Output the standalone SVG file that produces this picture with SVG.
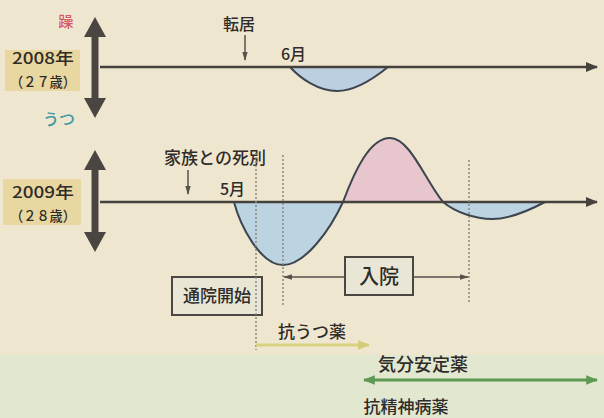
<svg xmlns="http://www.w3.org/2000/svg" width="604" height="418" viewBox="0 0 604 418">
  <style>
    .t { font-family: "Noto Sans CJK JP", "Noto Sans", sans-serif; fill: #2e2b28; font-weight: 500; }
    .axis { stroke: #45423d; stroke-width: 2.5; fill: none; }
    .curve { stroke: #3c4550; stroke-width: 2; fill: none; }
    .dot { stroke: #8a8a80; stroke-width: 1.5; stroke-dasharray: 2 2; fill: none; }
    .conn { stroke: #55524c; stroke-width: 1.5; fill: none; }
    .box { fill: #e9e6d6; stroke: #4a4642; stroke-width: 2; }
    .lbl { fill: #e8d7a0; }
    .vbar { stroke: #4a4540; stroke-width: 7; }
  </style>
  <defs>
    <marker id="ah" viewBox="0 0 10 10" refX="9" refY="5" markerWidth="5" markerHeight="5" orient="auto-start-reverse">
      <path d="M0,1 L10,5 L0,9 z" fill="#45423d"/>
    </marker>
    <marker id="ahs" viewBox="0 0 10 10" refX="9" refY="5" markerWidth="6" markerHeight="6" orient="auto-start-reverse">
      <path d="M0,2 L10,5 L0,8 z" fill="#55524c"/>
    </marker>
    <marker id="ahg" viewBox="0 0 10 10" refX="9" refY="5" markerWidth="4" markerHeight="4" orient="auto-start-reverse">
      <path d="M0,1 L10,5 L0,9 z" fill="#5f9a55"/>
    </marker>
    <marker id="ahy" viewBox="0 0 10 10" refX="9" refY="5" markerWidth="4" markerHeight="4" orient="auto-start-reverse">
      <path d="M0,1 L10,5 L0,9 z" fill="#d2cc78"/>
    </marker>
    <clipPath id="above"><rect x="0" y="0" width="604" height="202"/></clipPath>
    <clipPath id="below"><rect x="0" y="202" width="604" height="216"/></clipPath>
  </defs>

  <!-- background -->
  <rect x="0" y="0" width="604" height="418" fill="#eee6cf"/>
  <rect x="0" y="355" width="604" height="63" fill="#e2e7d0"/>

  <!-- 2008 row -->
  <g id="label2008">
    <rect class="lbl" x="5" y="50" width="75" height="41"/>
    <text class="t" x="43" y="64" font-size="16" text-anchor="middle" textLength="62" lengthAdjust="spacingAndGlyphs">2008年</text>
    <text class="t" x="43" y="87" font-size="14" text-anchor="middle" textLength="66" lengthAdjust="spacingAndGlyphs">（２７歳）</text>
  </g>
  <g id="mania-label"><text x="66" y="27" font-size="15" text-anchor="middle" font-family="Noto Sans CJK JP, sans-serif" font-weight="500" fill="#d4586a">躁</text></g>
  <g id="depress-label"><text x="59" y="125" font-size="16" text-anchor="middle" font-family="Noto Sans CJK JP, sans-serif" font-weight="500" fill="#3e9aa6">うつ</text></g>
  <g id="vbar2008">
    <line class="vbar" x1="95" y1="34" x2="95" y2="102"/>
    <path d="M95,17 L106,37 L84,37 z" fill="#4a4540"/>
    <path d="M95,118 L106,98 L84,98 z" fill="#4a4540"/>
  </g>
  <g id="curve2008">
    <path d="M290,67 C300,78 318,91 337,91 C355,91 372,80 388,67 Z" fill="#bccfe0"/>
    <path class="curve" d="M290,67 C300,78 318,91 337,91 C355,91 372,80 388,67"/>
  </g>
  <g id="tenkyo">
    <text class="t" x="239" y="30" font-size="16" text-anchor="middle">転居</text>
  </g>
  <g id="m6"><text class="t" x="281" y="60" font-size="16">6月</text></g>

  <!-- 2009 row -->
  <g id="label2009">
    <rect class="lbl" x="3" y="179" width="78" height="46"/>
    <text class="t" x="43" y="198" font-size="16" text-anchor="middle" textLength="62" lengthAdjust="spacingAndGlyphs">2009年</text>
    <text class="t" x="43" y="221" font-size="14" text-anchor="middle" textLength="66" lengthAdjust="spacingAndGlyphs">（２８歳）</text>
  </g>
  <g id="vbar2009">
    <line class="vbar" x1="95" y1="167" x2="95" y2="235"/>
    <path d="M95,150 L106,170 L84,170 z" fill="#4a4540"/>
    <path d="M95,252 L106,232 L84,232 z" fill="#4a4540"/>
  </g>
  <g id="curve2009">
    <path clip-path="url(#above)" d="M234,202 C240,225 260,265 283,265 C305,265 330,230 343,202 C355,170 370,138 390,138 C410,138 425,180 443,202 C455,212 475,219 492,219 C510,219 530,210 545,202 Z" fill="#e8c6cd"/>
    <path clip-path="url(#below)" d="M234,202 C240,225 260,265 283,265 C305,265 330,230 343,202 C355,170 370,138 390,138 C410,138 425,180 443,202 C455,212 475,219 492,219 C510,219 530,210 545,202 Z" fill="#bcd3e2"/>
    <path class="curve" d="M234,202 C240,225 260,265 283,265 C305,265 330,230 343,202 C355,170 370,138 390,138 C410,138 425,180 443,202 C455,212 475,219 492,219 C510,219 530,210 545,202"/>
  </g>
  <g id="shibetsu">
    <text class="t" x="215" y="164" font-size="17" text-anchor="middle">家族との死別</text>
  </g>
  <g id="m5"><text class="t" x="220" y="195" font-size="16">5月</text></g>

  <g id="tsuin">
    <rect class="box" x="172" y="277" width="90" height="38"/>
    <text class="t" x="217" y="302" font-size="17" text-anchor="middle">通院開始</text>
  </g>
  <g id="nyuin">
    <rect class="box" x="345" y="257" width="68" height="38"/>
    <text class="t" x="379" y="284" font-size="20" text-anchor="middle">入院</text>
  </g>
  <g id="kouutsu">
    <text class="t" x="312" y="338" font-size="17" text-anchor="middle">抗うつ薬</text>
  </g>
  <g id="kibun">
    <text class="t" x="423" y="371" font-size="18" text-anchor="middle">気分安定薬</text>
  </g>
  <g id="kouseishin">
    <text class="t" x="406" y="413" font-size="17" text-anchor="middle">抗精神病薬</text>
  </g>

  <!-- connectors -->
  <g id="connectors">
    <line class="axis" x1="100" y1="67" x2="597" y2="67" marker-end="url(#ah)"/>
    <line class="axis" x1="100" y1="202" x2="597" y2="202" marker-end="url(#ah)"/>
    <line class="conn" x1="245" y1="35" x2="245" y2="60" marker-end="url(#ahs)"/>
    <line class="conn" x1="188" y1="170" x2="188" y2="194" marker-end="url(#ahs)"/>
    <line class="dot" x1="256" y1="153" x2="256" y2="350"/>
    <line class="dot" x1="283" y1="155" x2="283" y2="305"/>
    <line class="dot" x1="469" y1="160" x2="469" y2="304"/>
    <line class="conn" x1="345" y1="277" x2="284" y2="277" marker-end="url(#ahs)"/>
    <line class="conn" x1="413" y1="277" x2="468" y2="277" marker-end="url(#ahs)"/>
    <line x1="256" y1="345" x2="369" y2="345" stroke="#d8d27e" stroke-width="3" marker-end="url(#ahy)"/>
    <line x1="364" y1="380" x2="597" y2="380" stroke="#5f9a55" stroke-width="3" marker-start="url(#ahg)" marker-end="url(#ahg)"/>
  </g>
</svg>
